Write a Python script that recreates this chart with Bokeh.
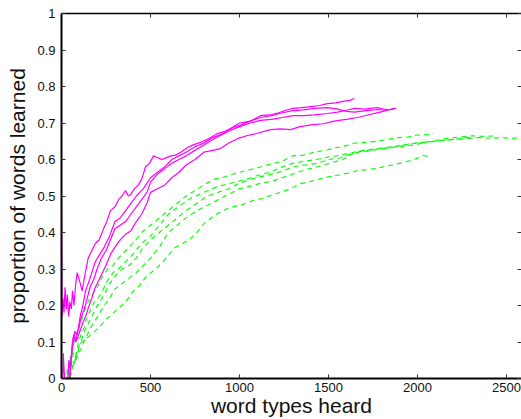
from bokeh.plotting import figure
from bokeh.models import Range1d, LinearAxis, FixedTicker
from bokeh.embed import file_html
from bokeh.resources import INLINE

# ---------------- data ----------------
x_ticks = [0, 500, 1000, 1500, 2000, 2500]
y_ticks = [0, 0.1, 0.2, 0.3, 0.4, 0.5, 0.6, 0.7, 0.8, 0.9, 1]
y_tick_labels = ["0", "0.1", "0.2", "0.3", "0.4", "0.5", "0.6", "0.7", "0.8", "0.9", "1"]

# magenta (solid) runs
m1_x = [0, 3, 8, 14, 20, 27, 33, 40, 47, 55, 62, 70, 78, 88, 100, 116, 130, 150, 170, 190,
        212, 236, 255, 275, 300, 320, 340, 360, 375, 390, 410, 430, 450, 472, 495, 517, 540, 565, 590, 615,
        640, 670, 708, 740, 781, 820, 876, 920, 966, 1010, 1060, 1118, 1170, 1220, 1260, 1300, 1350, 1400, 1450, 1494,
        1540, 1590, 1620, 1646]
m1_y = [0.50, 0.17, 0.22, 0.18, 0.25, 0.19, 0.23, 0.17, 0.21, 0.19, 0.24, 0.20, 0.25, 0.29, 0.27, 0.24, 0.28, 0.33, 0.35, 0.37,
        0.38, 0.41, 0.43, 0.46, 0.47, 0.49, 0.50, 0.515, 0.50, 0.505, 0.52, 0.53, 0.545, 0.58, 0.59, 0.61, 0.605, 0.60, 0.605, 0.61,
        0.612, 0.62, 0.633, 0.64, 0.647, 0.655, 0.671, 0.678, 0.688, 0.695, 0.705, 0.72, 0.722, 0.728, 0.735, 0.74, 0.742, 0.745, 0.748, 0.753,
        0.755, 0.76, 0.762, 0.767]

m2_x = [0, 8, 10, 14, 18, 30, 45, 52, 60, 70, 80, 92, 105, 120, 135, 150, 170, 190, 215, 240,
        270, 300, 330, 360, 390, 420, 460, 500, 540, 580, 620, 660, 700, 750, 800, 850, 900, 950, 1000, 1060,
        1118, 1180, 1240, 1300, 1360, 1420, 1494, 1550, 1600, 1646, 1700, 1775, 1820, 1880]
m2_y = [0.0, 0.0, 0.07, 0.03, 0.0, 0.0, 0.0, 0.04, 0.08, 0.12, 0.10, 0.13, 0.17, 0.20, 0.24, 0.26, 0.29, 0.32, 0.34, 0.36,
        0.39, 0.43, 0.44, 0.46, 0.48, 0.50, 0.52, 0.55, 0.565, 0.58, 0.60, 0.61, 0.62, 0.635, 0.645, 0.66, 0.67, 0.685, 0.70, 0.705,
        0.715, 0.72, 0.728, 0.734, 0.736, 0.74, 0.742, 0.738, 0.732, 0.73, 0.733, 0.737, 0.735, 0.74]

m3_x = [0, 20, 35, 42, 50, 58, 66, 75, 85, 98, 112, 128, 145, 160, 180, 200, 225, 250, 275, 300,
        330, 360, 390, 420, 450, 480, 500, 540, 580, 620, 660, 700, 750, 800, 850, 900, 950, 1000, 1060, 1118,
        1180, 1240, 1300, 1360, 1420, 1494, 1550, 1600, 1646, 1700, 1775, 1820, 1860]
m3_y = [0.0, 0.0, 0.0, 0.05, 0.02, 0.08, 0.11, 0.13, 0.12, 0.14, 0.17, 0.19, 0.22, 0.25, 0.27, 0.30, 0.33, 0.35, 0.38, 0.41,
        0.42, 0.43, 0.45, 0.47, 0.49, 0.51, 0.538, 0.56, 0.575, 0.59, 0.60, 0.61, 0.625, 0.64, 0.655, 0.668, 0.68, 0.69, 0.70, 0.707,
        0.71, 0.715, 0.72, 0.72, 0.722, 0.726, 0.73, 0.735, 0.74, 0.738, 0.742, 0.737, 0.737]

m4_x = [0, 40, 48, 55, 62, 70, 79, 90, 104, 118, 135, 152, 170, 190, 210, 230, 250, 275, 300, 330,
        360, 390, 420, 450, 480, 500, 540, 580, 620, 660, 700, 750, 800, 850, 893, 940, 989, 1040, 1100, 1174,
        1230, 1287, 1340, 1400, 1472, 1530, 1600, 1663, 1720, 1790, 1848, 1870]
m4_y = [0.0, 0.0, 0.01, 0.06, 0.10, 0.12, 0.10, 0.11, 0.13, 0.15, 0.17, 0.195, 0.22, 0.25, 0.27, 0.29, 0.31, 0.34, 0.36, 0.38,
        0.395, 0.405, 0.43, 0.45, 0.48, 0.51, 0.52, 0.53, 0.55, 0.565, 0.585, 0.60, 0.62, 0.625, 0.63, 0.645, 0.657, 0.665, 0.672, 0.682,
        0.684, 0.682, 0.69, 0.695, 0.698, 0.705, 0.71, 0.715, 0.722, 0.73, 0.737, 0.74]

# green (dashed) runs
g1_x = [0, 25, 35, 45, 55, 65, 78, 90, 105, 120, 140, 160, 180, 200, 230, 260, 290, 320, 360, 400,
        450, 500, 550, 600, 650, 700, 750, 800, 850, 900, 950, 1000, 1060, 1120, 1180, 1240, 1300, 1360, 1420, 1480,
        1540, 1600, 1650, 1710, 1770, 1830, 1890, 1950, 2000, 2050, 2090]
g1_y = [0.0, 0.0, 0.03, 0.06, 0.05, 0.09, 0.11, 0.13, 0.15, 0.17, 0.20, 0.22, 0.235, 0.25, 0.28, 0.30, 0.31, 0.33, 0.35, 0.37,
        0.40, 0.42, 0.44, 0.46, 0.48, 0.50, 0.515, 0.53, 0.545, 0.55, 0.558, 0.565, 0.572, 0.58, 0.588, 0.595, 0.61, 0.612, 0.62, 0.625,
        0.632, 0.638, 0.645, 0.647, 0.65, 0.655, 0.66, 0.662, 0.667, 0.668, 0.671]

g2_x = [0, 30, 42, 55, 68, 80, 95, 110, 128, 145, 165, 185, 205, 230, 260, 290, 320, 360, 400, 450,
        500, 550, 600, 669, 730, 800, 870, 950, 1030, 1101, 1170, 1230, 1300, 1360, 1430, 1500, 1570, 1640, 1710, 1780,
        1850, 1920, 1990, 2060, 2130, 2200, 2270, 2340, 2410, 2480, 2530, 2562]
g2_y = [0.0, 0.0, 0.02, 0.04, 0.07, 0.06, 0.10, 0.12, 0.14, 0.17, 0.19, 0.21, 0.22, 0.24, 0.27, 0.29, 0.30, 0.32, 0.34, 0.37,
        0.39, 0.42, 0.45, 0.475, 0.495, 0.51, 0.525, 0.535, 0.545, 0.556, 0.565, 0.578, 0.59, 0.595, 0.60, 0.607, 0.612, 0.62, 0.626, 0.63,
        0.635, 0.64, 0.645, 0.648, 0.652, 0.655, 0.657, 0.66, 0.658, 0.66, 0.657, 0.66]

g3_x = [0, 40, 50, 60, 72, 85, 100, 115, 130, 150, 170, 190, 215, 240, 270, 300, 340, 380, 420, 460,
        500, 550, 600, 650, 700, 760, 820, 880, 940, 1000, 1060, 1120, 1180, 1240, 1300, 1370, 1440, 1500, 1570, 1640,
        1710, 1780, 1850, 1920, 1990, 2034, 2100, 2170, 2240, 2310, 2380, 2450]
g3_y = [0.0, 0.0, 0.03, 0.05, 0.04, 0.07, 0.09, 0.11, 0.13, 0.15, 0.17, 0.19, 0.21, 0.23, 0.26, 0.28, 0.30, 0.31, 0.33, 0.36,
        0.38, 0.40, 0.42, 0.44, 0.46, 0.48, 0.50, 0.51, 0.52, 0.535, 0.545, 0.553, 0.56, 0.568, 0.58, 0.585, 0.59, 0.60, 0.605, 0.618,
        0.622, 0.628, 0.632, 0.636, 0.64, 0.647, 0.652, 0.658, 0.662, 0.665, 0.663, 0.665]

g4_x = [0, 45, 55, 68, 80, 95, 110, 125, 145, 165, 190, 215, 240, 270, 300, 340, 380, 420, 460, 500,
        550, 600, 650, 700, 760, 820, 880, 940, 1000, 1060, 1120, 1180, 1240, 1300, 1370, 1440, 1510, 1580, 1650, 1720,
        1790, 1860, 1930, 2000, 2070, 2140, 2210, 2260, 2300]
g4_y = [0.0, 0.0, 0.02, 0.04, 0.05, 0.07, 0.08, 0.10, 0.12, 0.14, 0.16, 0.18, 0.20, 0.22, 0.245, 0.26, 0.275, 0.29, 0.31, 0.33,
        0.36, 0.40, 0.42, 0.44, 0.46, 0.475, 0.49, 0.505, 0.52, 0.527, 0.535, 0.54, 0.55, 0.56, 0.572, 0.58, 0.59, 0.60, 0.62, 0.625,
        0.63, 0.633, 0.64, 0.645, 0.648, 0.652, 0.655, 0.66, 0.66]

g5_x = [0, 50, 60, 75, 90, 107, 140, 174, 210, 247, 280, 315, 360, 404, 440, 472, 528, 570, 601, 629,
        680, 725, 760, 800, 840, 876, 930, 989, 1040, 1079, 1130, 1174, 1230, 1287, 1343, 1400, 1472, 1540, 1624, 1663,
        1720, 1790, 1848, 1904, 1970, 2034, 2056]
g5_y = [0.0, 0.0, 0.03, 0.05, 0.07, 0.096, 0.11, 0.123, 0.14, 0.16, 0.175, 0.19, 0.21, 0.24, 0.255, 0.277, 0.30, 0.32, 0.337, 0.356,
        0.37, 0.383, 0.40, 0.424, 0.44, 0.452, 0.465, 0.474, 0.48, 0.488, 0.494, 0.501, 0.51, 0.52, 0.534, 0.54, 0.55, 0.556, 0.564, 0.57,
        0.572, 0.578, 0.584, 0.59, 0.598, 0.611, 0.608]

magenta_runs = [(m1_x, m1_y), (m2_x, m2_y), (m3_x, m3_y), (m4_x, m4_y)]
green_runs = [(g1_x, g1_y), (g2_x, g2_y), (g3_x, g3_y), (g4_x, g4_y), (g5_x, g5_y)]

FONT = "Liberation Sans"

p = figure(width=521, height=419, output_backend="svg", toolbar_location=None,
           x_range=Range1d(0, 2584), y_range=Range1d(0, 1),
           min_border_left=61, min_border_right=0, min_border_top=13, min_border_bottom=41)
p.outline_line_color = None
p.xgrid.visible = False
p.ygrid.visible = False
p.background_fill_color = "white"
p.border_fill_color = "white"

for xs, ys in green_runs:
    p.line(xs, ys, line_color="#00FF00", line_width=1.1, line_dash="5 4")
for xs, ys in magenta_runs:
    p.line(xs, ys, line_color="#FF00FF", line_width=1.2)

# bottom axis
xa = p.xaxis[0]
xa.ticker = FixedTicker(ticks=x_ticks)
xa.axis_label = "word types heard"
xa.axis_label_text_font = FONT
xa.axis_label_text_font_size = "21px"
xa.axis_label_text_font_style = "normal"
xa.axis_label_text_color = "#111111"
xa.axis_label_standoff = -1
xa.major_label_text_font = FONT
xa.major_label_text_font_size = "13px"
xa.major_label_text_color = "#111111"
xa.major_label_standoff = 4
xa.major_tick_in = 4
xa.major_tick_out = 0
xa.minor_tick_line_color = None
xa.axis_line_width = 2
xa.major_tick_line_color = "#333333"

# left axis
ya = p.yaxis[0]
ya.ticker = FixedTicker(ticks=y_ticks)
ya.major_label_overrides = {t: l for t, l in zip(y_ticks, y_tick_labels)}
ya.axis_label = "proportion of words learned"
ya.axis_label_text_font = FONT
ya.axis_label_text_font_size = "21px"
ya.axis_label_text_font_style = "normal"
ya.axis_label_text_color = "#111111"
ya.axis_label_standoff = 5
ya.major_label_text_font = FONT
ya.major_label_text_font_size = "13px"
ya.major_label_text_color = "#111111"
ya.major_label_standoff = 6
ya.major_tick_in = 4
ya.major_tick_out = 0
ya.minor_tick_line_color = None
ya.axis_line_width = 2
ya.major_tick_line_color = "#333333"

# top frame with ticks (no labels drawn)
top = LinearAxis(ticker=FixedTicker(ticks=x_ticks), major_label_text_font_size="0px",
                 major_label_text_color=None,
                 major_label_standoff=0, major_tick_in=4, major_tick_out=0,
                 minor_tick_line_color=None, axis_line_width=1.5, major_tick_line_color="#333333")
p.add_layout(top, "above")

# right ticks (the frame line itself lies outside the picture)
right = LinearAxis(ticker=FixedTicker(ticks=y_ticks), major_label_text_font_size="0px",
                   major_label_text_color=None,
                   major_label_standoff=0, major_tick_in=4, major_tick_out=0,
                   minor_tick_line_color=None, axis_line_color=None, major_tick_line_color="#333333")
p.add_layout(right, "right")

open("out.html", "w").write(file_html(p, INLINE))
